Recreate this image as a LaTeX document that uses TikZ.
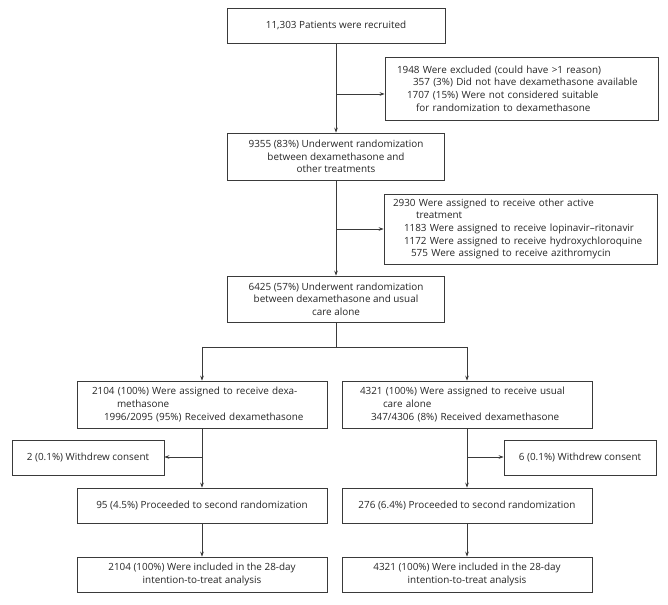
\documentclass[tikz,border=0pt]{standalone}
\usepackage{fontspec}
\setmainfont{Open Sans}
\usetikzlibrary{arrows.meta}
\definecolor{ln}{HTML}{3A3A3A}
\definecolor{tx}{HTML}{262626}
\hyphenpenalty=10000
\begin{document}
\begin{tikzpicture}[x=1pt,y=1pt,
  box/.style={draw=ln, line width=0.7pt, text=tx, inner ysep=0pt, font=\fontsize{9.9}{12.6}\selectfont},
  cbox/.style={box, align=center, inner xsep=2pt},
  lbox/.style 2 args={box, align=left, inner xsep=#2, text width=#1-2*#2},
  arr/.style={draw=ln, line width=0.7pt, -{Stealth[length=5pt,width=3.6pt]}},
  ln/.style={draw=ln, line width=0.7pt}]
\useasboundingbox (0,0) rectangle (668,604);
% main column
\node[cbox, minimum width=218, minimum height=35] (b1) at (336,578.5) {11,303 Patients were recruited};
\node[lbox={273}{12}, minimum width=273, minimum height=63] (ex) at (521.5,515.5)
 {1948 Were excluded (could have >1 reason)\\
  \hspace*{16pt}\mbox{357 (3\%) Did not have dexamethasone available}\\
  \hspace*{10pt}1707 (15\%) Were not considered suitable\\
  \hspace*{19pt}for randomization to dexamethasone};
\node[cbox, minimum width=217, minimum height=47] (b2) at (336,447.5)
 {9355 (83\%) Underwent randomization\\between dexamethasone and\\other treatments};
\node[lbox={273}{9}, minimum width=273, minimum height=70] (ot) at (520.5,375)
 {2930 Were assigned to receive other active\\
  \hspace*{23pt}treatment\\
  \hspace*{11pt}\mbox{1183 Were assigned to receive lopinavir–ritonavir}\\
  \hspace*{11pt}\mbox{1172 Were assigned to receive hydroxychloroquine}\\
  \hspace*{18pt}\mbox{575 Were assigned to receive azithromycin}};
\node[cbox, minimum width=217, minimum height=46] (b3) at (336,305)
 {6425 (57\%) Underwent randomization\\between dexamethasone and usual\\care alone};
% left column
\node[lbox={250}{15}, minimum width=250, minimum height=47] (l1) at (202,199.5)
 {2104 (100\%) Were assigned to receive dexa-\\
  \hspace*{25pt}methasone\\
  \hspace*{12pt}1996/2095 (95\%) Received dexamethasone};
\node[cbox, minimum width=152, minimum height=35] (wl) at (88,146.5) {2 (0.1\%) Withdrew consent};
\node[cbox, minimum width=250, minimum height=35] (l2) at (202,98.5) {95 (4.5\%) Proceeded to second randomization};
\node[cbox, minimum width=250, minimum height=35] (l3) at (202,29.5)
 {2104 (100\%) Were included in the 28-day\\intention-to-treat analysis};
% right column
\node[lbox={250}{18}, minimum width=250, minimum height=47] (r1) at (467,199.5)
 {4321 (100\%) Were assigned to receive usual\\
  \hspace*{23pt}care alone\\
  \hspace*{11pt}347/4306 (8\%) Received dexamethasone};
\node[cbox, minimum width=152, minimum height=35] (wr) at (580,146.5) {6 (0.1\%) Withdrew consent};
\node[cbox, minimum width=250, minimum height=35] (r2) at (467,98.5) {276 (6.4\%) Proceeded to second randomization};
\node[cbox, minimum width=250, minimum height=35] (r3) at (467,29.5)
 {4321 (100\%) Were included in the 28-day\\intention-to-treat analysis};
% junctions
\coordinate (j1) at (336,510);
\coordinate (j2) at (336,375);
\coordinate (sp) at (336,257);
\coordinate (jl) at (202,147);
\coordinate (jr) at (467,147);
% connectors
\draw[arr] (b1.south) -- (b2.north);
\draw[arr] (j1) -- (j1 -| ex.west);
\draw[arr] (b2.south) -- (b3.north);
\draw[arr] (j2) -- (ot.west);
\draw[ln] (b3.south) -- (sp);
\draw[ln] (sp -| l1.north) -- (sp -| r1.north);
\draw[arr] (sp -| l1.north) -- (l1.north);
\draw[arr] (sp -| r1.north) -- (r1.north);
\draw[arr] (l1.south) -- (l2.north);
\draw[arr] (jl) -- (jl -| wl.east);
\draw[arr] (r1.south) -- (r2.north);
\draw[arr] (jr) -- (jr -| wr.west);
\draw[arr] (l2.south) -- (l3.north);
\draw[arr] (r2.south) -- (r3.north);
\end{tikzpicture}
\end{document}
